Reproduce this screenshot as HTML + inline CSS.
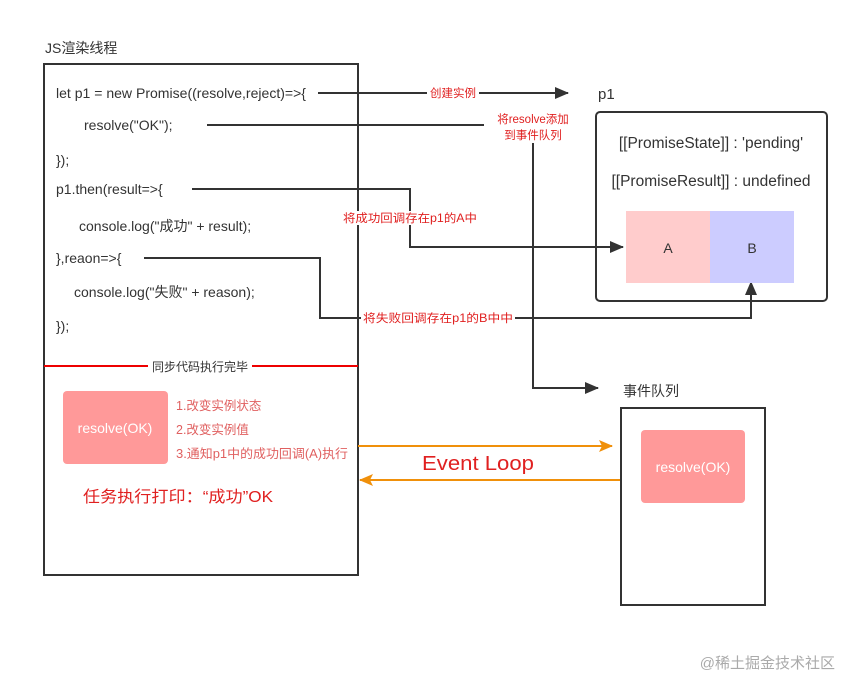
<!DOCTYPE html>
<html><head><meta charset="utf-8"><style>
body{margin:0;background:#fff}
svg text{font-family:"Liberation Sans","Noto Sans CJK SC",sans-serif}
</style></head><body>
<svg width="855" height="693" viewBox="0 0 855 693" xmlns="http://www.w3.org/2000/svg">
<defs>
<marker id="ab" markerWidth="14" markerHeight="12" refX="13" refY="6" orient="auto" markerUnits="userSpaceOnUse"><path d="M0,0 L14,6 L0,12 Z" fill="#333"/></marker>
<marker id="ao" markerWidth="14" markerHeight="12" refX="13" refY="6" orient="auto" markerUnits="userSpaceOnUse"><path d="M0,0 L14,6 L0,12 L3,6 Z" fill="#f0900a"/></marker>
</defs>
<text x="45" y="53" font-size="14" fill="#333">JS渲染线程</text>
<rect x="44" y="64" width="314" height="511" fill="none" stroke="#333" stroke-width="2"/>
<g font-size="14" fill="#333">
<text x="56" y="98" textLength="250" lengthAdjust="spacingAndGlyphs">let p1 = new Promise((resolve,reject)=>{</text>
<text x="84" y="130">resolve("OK");</text>
<text x="56" y="165">});</text>
<text x="56" y="194">p1.then(result=>{</text>
<text x="79" y="231">console.log("成功" + result);</text>
<text x="56" y="263">},reaon=>{</text>
<text x="74" y="297">console.log("失败" + reason);</text>
<text x="56" y="331">});</text>
</g>
<line x1="44" y1="366" x2="358" y2="366" stroke="#e00" stroke-width="2"/>
<rect x="148" y="359" width="104" height="14" fill="#fff"/>
<text x="200" y="371" font-size="12" fill="#333" text-anchor="middle">同步代码执行完毕</text>
<g fill="none" stroke="#333" stroke-width="2">
<line x1="318" y1="93" x2="568" y2="93" marker-end="url(#ab)"/>
<line x1="207" y1="125" x2="484" y2="125"/>
<polyline points="533,143 533,388 598,388" marker-end="url(#ab)"/>
<polyline points="192,189 410,189 410,247 623,247" marker-end="url(#ab)"/>
<polyline points="144,258 320,258 320,318 751,318 751,282" marker-end="url(#ab)"/>
</g>
<g font-size="11.5" fill="#e02020" text-anchor="middle">
<rect x="427" y="86" width="52" height="14" fill="#fff"/>
<text x="453" y="97">创建实例</text>
<text x="533" y="123">将resolve添加</text>
<text x="533" y="139">到事件队列</text>
<rect x="340" y="211" width="140" height="14" fill="#fff"/>
<text x="410" y="222" textLength="134" lengthAdjust="spacingAndGlyphs">将成功回调存在p1的A中</text>
<rect x="361" y="311" width="154" height="14" fill="#fff"/>
<text x="438" y="322" textLength="150" lengthAdjust="spacingAndGlyphs">将失败回调存在p1的B中中</text>
</g>
<text x="598" y="99" font-size="15" fill="#333">p1</text>
<rect x="596" y="112" width="231" height="189" rx="4" fill="none" stroke="#333" stroke-width="2"/>
<text x="711" y="148" font-size="15.5" fill="#333" text-anchor="middle">[[PromiseState]] : 'pending'</text>
<text x="711" y="186" font-size="15.5" fill="#333" text-anchor="middle">[[PromiseResult]] : undefined</text>
<rect x="626" y="211" width="84" height="72" fill="#ffcccc"/>
<rect x="710" y="211" width="84" height="72" fill="#ccccff"/>
<text x="668" y="253" font-size="14" fill="#333" text-anchor="middle">A</text>
<text x="752" y="253" font-size="14" fill="#333" text-anchor="middle">B</text>
<rect x="63" y="391" width="105" height="73" rx="4" fill="#ff9999"/>
<text x="115" y="433" font-size="14" fill="#fff" text-anchor="middle">resolve(OK)</text>
<g font-size="12.5" fill="#e06060">
<text x="176" y="410">1.改变实例状态</text>
<text x="176" y="434">2.改变实例值</text>
<text x="176" y="458" textLength="172" lengthAdjust="spacingAndGlyphs">3.通知p1中的成功回调(A)执行</text>
</g>
<text x="83" y="502" font-size="16" fill="#e02020" textLength="190" lengthAdjust="spacingAndGlyphs">任务执行打印：“成功”OK</text>
<line x1="358" y1="446" x2="612" y2="446" stroke="#f0900a" stroke-width="2" marker-end="url(#ao)"/>
<line x1="621" y1="480" x2="360" y2="480" stroke="#f0900a" stroke-width="2" marker-end="url(#ao)"/>
<text x="422" y="470" font-size="20" fill="#e02020" textLength="112" lengthAdjust="spacingAndGlyphs">Event Loop</text>
<text x="623" y="396" font-size="14" fill="#333">事件队列</text>
<rect x="621" y="408" width="144" height="197" fill="none" stroke="#333" stroke-width="2"/>
<rect x="641" y="430" width="104" height="73" rx="4" fill="#ff9999"/>
<text x="693" y="472" font-size="14" fill="#fff" text-anchor="middle">resolve(OK)</text>
<text x="835" y="668" font-size="15" fill="#aaa" text-anchor="end">@稀土掘金技术社区</text>
</svg>
</body></html>
